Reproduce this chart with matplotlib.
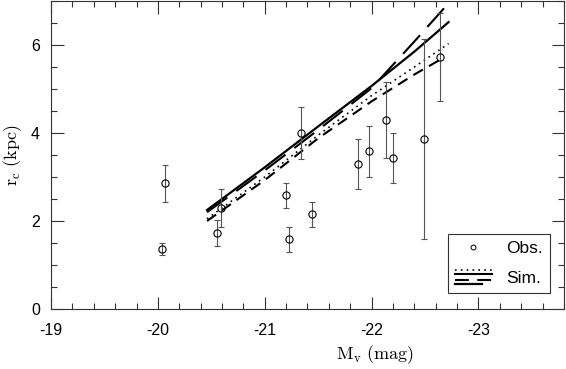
import matplotlib
matplotlib.use("Agg")
import matplotlib.pyplot as plt
from matplotlib.lines import Line2D
from matplotlib.legend_handler import HandlerBase
from matplotlib.ticker import MultipleLocator

plt.rcParams['font.family'] = ['Liberation Sans', 'DejaVu Sans']
plt.rcParams['axes.unicode_minus'] = False
plt.rcParams['mathtext.fontset'] = 'cm'
plt.rcParams['lines.scale_dashes'] = False

# Observations
obs_M = [-20.04, -20.07, -20.55, -20.59, -21.20, -21.23, -21.34, -21.44,
         -21.87, -21.98, -22.13, -22.20, -22.49, -22.64]
obs_r = [1.36, 2.86, 1.73, 2.30, 2.58, 1.58, 4.00, 2.15,
         3.30, 3.58, 4.30, 3.44, 3.86, 5.73]
obs_err = [0.14, 0.42, 0.29, 0.43, 0.28, 0.28, 0.58, 0.29,
           0.57, 0.57, 0.86, 0.57, 2.28, 1.00]

# Simulations
sim_M = [-20.46, -21.0, -21.5, -22.0, -22.4, -22.72]
sim_dotted = [2.05, 3.00, 3.95, 4.85, 5.50, 6.03]
sim_longdash = [2.20, 3.15, 4.07, 5.02, 6.08, 6.95]
sim_solid = [2.25, 3.22, 4.15, 5.07, 5.85, 6.52]
sim_dash_M = [-20.46, -21.0, -21.5, -22.0, -22.4, -22.68]
sim_dash = [2.00, 2.93, 3.88, 4.72, 5.33, 5.72]

fig = plt.figure(figsize=(5.66, 3.69), dpi=100)
ax = fig.add_axes([51/566, 60/369, 513/566, 308/369])

dot_style = dict(color='black', lw=1.2, linestyle=(0, (1.2, 3.0)))
ldash_style = dict(color='black', lw=1.5, linestyle=(0, (18, 8)))
dash_style = dict(color='black', lw=1.5, linestyle=(0, (8, 5)))
solid_style = dict(color='black', lw=1.6, linestyle='-')

ax.plot(sim_M, sim_dotted, **dot_style)
ax.plot(sim_M, sim_longdash, **ldash_style)
ax.plot(sim_dash_M, sim_dash, **dash_style)
ax.plot(sim_M, sim_solid, **solid_style)

ax.errorbar(obs_M, obs_r, yerr=obs_err, fmt='none', ecolor='#555555',
            elinewidth=0.8, capsize=2.2, capthick=0.8)
ax.plot(obs_M, obs_r, linestyle='none', marker='o', ms=5.2, mfc='none',
        mec='black', mew=0.8)

ax.set_xlim(-19, -23.8)
ax.set_ylim(0, 7)
ax.xaxis.set_major_locator(MultipleLocator(1))
ax.xaxis.set_minor_locator(MultipleLocator(0.2))
ax.yaxis.set_major_locator(MultipleLocator(2))
ax.yaxis.set_minor_locator(MultipleLocator(0.5))
ax.tick_params(which='both', direction='in', top=True, right=True,
               colors='#333333', labelcolor='black', width=0.8)
ax.tick_params(which='major', length=9, labelsize=11.5)
ax.tick_params(which='minor', length=4.5)
ax.tick_params(axis='x', which='major', pad=10)
ax.tick_params(axis='y', which='major', pad=8)
for s in ax.spines.values():
    s.set_linewidth(0.8)
    s.set_color('#333333')

ax.set_xlabel(r'$\mathrm{M_v\ (mag)}$', fontsize=13)
ax.set_ylabel(r'$\mathrm{r_c\ (kpc)}$', fontsize=13)
ax.xaxis.set_label_coords((375 - 51) / 513, -34 / 308)
ax.yaxis.set_label_coords(-27 / 513, 0.5)


class SimHandle:
    pass


class StackHandler(HandlerBase):
    def create_artists(self, legend, orig_handle, xdescent, ydescent,
                       width, height, fontsize, trans):
        yc = height / 2 - ydescent
        x0 = -xdescent
        rows = [
            (5.0, 1.0, dict(color='black', lw=1.2, linestyle=(0, (1.2, 3.0)))),
            (1.9, 1.0, dict(color='black', lw=1.5, linestyle='-')),
            (-2.4, 1.0, dict(color='black', lw=1.5, linestyle=(0, (10, 6)))),
            (-5.3, 0.73, dict(color='black', lw=1.6, linestyle='-')),
        ]
        arts = []
        for dy, frac, st in rows:
            l = Line2D([x0, x0 + width * frac], [yc + dy, yc + dy], **st)
            l.set_transform(trans)
            arts.append(l)
        return arts


obs_handle = Line2D([], [], linestyle='none', marker='o', ms=3.5, mfc='none',
                    mec='black', mew=0.7)
leg = ax.legend([obs_handle, SimHandle()], ['Obs.', 'Sim.'],
                handler_map={SimHandle: StackHandler()},
                loc='lower right', bbox_to_anchor=(550/566, (369-293)/369),
                bbox_transform=fig.transFigure, borderaxespad=0,
                fontsize=12.5, handlelength=2.1, handletextpad=0.85,
                labelspacing=0.85, borderpad=0.4, fancybox=False,
                framealpha=1, edgecolor='#333333')
leg.get_frame().set_linewidth(0.8)

fig.savefig('out.png', dpi=100)
